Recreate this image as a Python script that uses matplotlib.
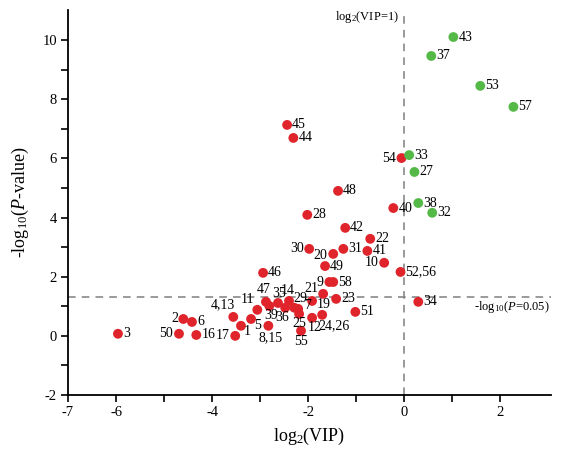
import matplotlib
matplotlib.use("Agg")
import matplotlib.pyplot as plt
from matplotlib.ticker import FixedLocator

plt.rcParams['font.family'] = ['Liberation Serif', 'DejaVu Serif']
plt.rcParams['mathtext.fontset'] = 'custom'
plt.rcParams['mathtext.rm'] = 'Liberation Serif'
plt.rcParams['mathtext.it'] = 'Liberation Serif:italic'

# ---- data ----
green_labels = ["43", "37", "53", "57", "33", "27", "38", "32"]
green_x = [1.02, 0.56, 1.58, 2.27, 0.10, 0.21, 0.29, 0.58]
green_y = [10.10, 9.46, 8.45, 7.74, 6.11, 5.54, 4.49, 4.16]

red_labels = ["54", "45", "44", "48", "28", "40", "42", "22", "30", "31", "41", "20",
              "10", "49", "52,56", "46", "9", "58", "21", "19", "23", "34", "51",
              "24,26", "12", "55", "25", "7", "29", "14", "36", "35", "47", "39",
              "11", "5", "1", "4,13", "17", "8,15", "2", "6", "50", "16", "3"]
red_x = [-0.06, -2.44, -2.31, -1.38, -2.02, -0.23, -1.23, -0.71, -1.98, -1.27, -0.77, -1.48,
         -0.42, -1.65, -0.08, -2.94, -1.56, -1.48, -1.69, -1.92, -1.42, 0.29, -1.02,
         -1.71, -1.92, -2.15, -2.19, -2.21, -2.29, -2.40, -2.48, -2.63, -2.88, -2.81,
         -3.06, -3.19, -3.40, -3.56, -3.52, -2.83, -4.60, -4.42, -4.69, -4.33, -5.96]
red_y = [6.01, 7.13, 6.69, 4.90, 4.09, 4.32, 3.65, 3.28, 2.94, 2.94, 2.87, 2.77,
         2.47, 2.36, 2.16, 2.13, 1.82, 1.82, 1.42, 1.18, 1.25, 1.15, 0.81,
         0.71, 0.61, 0.17, 0.74, 0.91, 0.95, 1.18, 0.95, 1.11, 1.15, 1.01,
         0.88, 0.57, 0.34, 0.64, 0.0, 0.34, 0.57, 0.47, 0.07, 0.03, 0.07]

x_ticks = [-7, -6, -5, -4, -3, -2, -1, 0, 1, 2]
x_ticklabels = ["-7", "-6", "", "-4", "", "-2", "", "0", "", "2"]
y_ticks = [-2, -1, 0, 1, 2, 3, 4, 5, 6, 7, 8, 9, 10]
y_ticklabels = ["-2", "", "0", "", "2", "", "4", "", "6", "", "8", "", "10"]

vip_line = 0.0
p_line = 1.301

# label placement: (dx, dy) in pixels, ha
right = (5, 0, 'left')
custom = {
    "54": (-5, 0, 'right'), "30": (-5, 0, 'right'), "20": (-6, -2, 'right'),
    "10": (-6, 0, 'right'), "9": (-6, 0, 'right'), "50": (-6, 0, 'right'),
    "17": (-6, 0, 'right'), "2": (-5, 0, 'right'),
    "4,13": (-10, 12, 'center'), "11": (-10, 10, 'center'), "1": (6, -6, 'center'),
    "5": (6, -7, 'center'), "8,15": (2, -12, 'center'), "39": (2, -10, 'center'),
    "47": (-2, 12, 'center'), "35": (1, 10, 'center'), "14": (-1, 10, 'center'),
    "29": (6, 9, 'center'), "7": (9, 3, 'center'), "36": (-3, -10, 'center'),
    "25": (0, -10, 'center'), "55": (0, -11, 'center'), "12": (3, -10, 'center'),
    "24,26": (12, -11, 'center'), "21": (-12, 5, 'center'), "19": (12, -4, 'center'),
}

red_c = '#e0242b'
green_c = '#55b947'

fig = plt.figure(figsize=(5.61, 4.59), dpi=100)
ax = fig.add_axes([0.1212, 0.1394, 0.8608, 0.8379])

ax.axvline(vip_line, color='#7f7f7f', lw=1.1, ls=(0, (5, 4)), zorder=1)
ax.axhline(p_line, color='#7f7f7f', lw=1.1, ls=(0, (5, 4)), zorder=1)

ax.scatter(red_x, red_y, s=50, color=red_c, edgecolors='none', zorder=3)
ax.scatter(green_x, green_y, s=50, color=green_c, edgecolors='none', zorder=3)

def put_labels(labels, xs, ys):
    for lab, x, y in zip(labels, xs, ys):
        dx, dy, ha = custom.get(lab, right)
        ax.annotate(lab, (x, y), xytext=(dx, dy), textcoords='offset pixels',
                    ha=ha, va='center', fontsize=10, zorder=4)

put_labels(red_labels, red_x, red_y)
put_labels(green_labels, green_x, green_y)

ax.text(vip_line - 0.12, 10.77, r'log$_2$(VIP=1)', ha='right', va='center', fontsize=9)
ax.text(3.02, 0.97, r'-log$_{10}$($\mathit{P}$=0.05)', ha='right', va='center', fontsize=9)

ax.set_xlim(-7, 3.05)
ax.set_ylim(-2, 11)
ax.xaxis.set_major_locator(FixedLocator(x_ticks))
ax.set_xticklabels(x_ticklabels)
ax.yaxis.set_major_locator(FixedLocator(y_ticks))
ax.set_yticklabels(y_ticklabels)
ax.tick_params(axis='both', direction='out', length=5, width=1.2, labelsize=10.5, pad=3)

for s in ['top', 'right']:
    ax.spines[s].set_visible(False)
for s in ['left', 'bottom']:
    ax.spines[s].set_linewidth(1.3)

ax.set_xlabel(r'log$_2$(VIP)', fontsize=13, labelpad=5)
ax.set_ylabel(r'-log$_{10}$($\mathit{P}$-value)', fontsize=13, labelpad=8)

fig.savefig('out.png', dpi=100)
